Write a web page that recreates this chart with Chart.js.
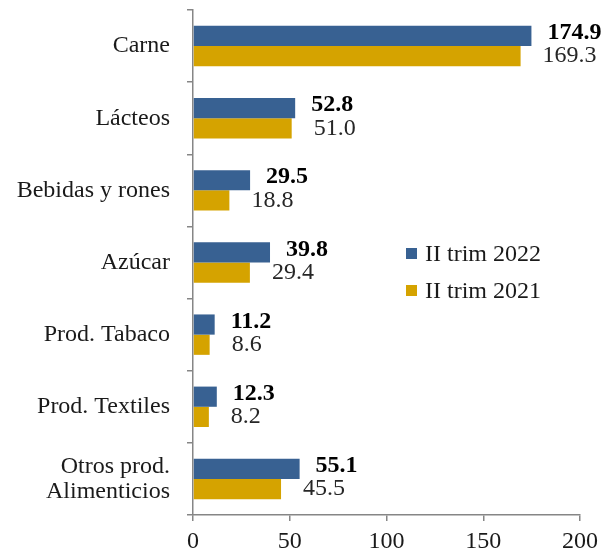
<!DOCTYPE html>
<html>
<head>
<meta charset="utf-8">
<script src="https://cdn.jsdelivr.net/npm/chart.js@4/dist/chart.umd.min.js"></script>
<style>
  html, body { margin: 0; padding: 0; background: #fff; }
  canvas { display: block; }
</style>
</head>
<body>
<canvas id="chart" width="612" height="554"></canvas>
<script>
const categories = ["Carne", "Lácteos", "Bebidas y rones", "Azúcar", "Prod. Tabaco", "Prod. Textiles", ["Otros prod.", "Alimenticios"]]
const trim2022 = [174.9, 52.8, 29.5, 39.8, 11.2, 12.3, 55.1]
const trim2021 = [169.3, 51.0, 18.8, 29.4, 8.6, 8.2, 45.5]
const seriesNames = ["II trim 2022", "II trim 2021"]
const xTicks = [0, 50, 100, 150, 200]

const FONT = "'Liberation Serif', 'Times New Roman', serif"
const BLUE = "#386192"
const GOLD = "#D5A300"
const AXIS = "#868686"

// value labels next to each bar
const valueLabels = {
  id: "valueLabels",
  afterDatasetsDraw(chart) {
    const ctx = chart.ctx
    ctx.save()
    ctx.textAlign = "left"
    ctx.textBaseline = "middle"
    chart.data.datasets.forEach((ds, i) => {
      const meta = chart.getDatasetMeta(i)
      const bold = i === 0
      ctx.font = (bold ? "bold " : "") + "24px " + FONT
      ctx.fillStyle = bold ? "#000" : "#262626"
      meta.data.forEach((bar, j) => {
        const dx = bold ? 16 : 22
        const dy = bold ? -3 : 0
        ctx.fillText(ds.data[j].toFixed(1), bar.x + dx, bar.y + dy)
      })
    })
    ctx.restore()
  },
}

// legend inside the plot area
const insideLegend = {
  id: "insideLegend",
  afterDraw(chart) {
    const ctx = chart.ctx
    ctx.save()
    ctx.font = "24px " + FONT
    ctx.textBaseline = "middle"
    ctx.textAlign = "left"
    chart.data.datasets.forEach((ds, i) => {
      const y = 253.5 + i * 37
      ctx.fillStyle = ds.backgroundColor
      ctx.fillRect(406, y - 5.5, 11, 11)
      ctx.fillStyle = "#1a1a1a"
      ctx.fillText(ds.label, 425, y + 1)
    })
    ctx.restore()
  },
}

new Chart(document.getElementById("chart"), {
  type: "bar",
  data: {
    labels: categories,
    datasets: [
      { label: seriesNames[0], data: trim2022, backgroundColor: BLUE },
      { label: seriesNames[1], data: trim2021, backgroundColor: GOLD },
    ],
  },
  options: {
    indexAxis: "y",
    responsive: false,
    animation: false,
    layout: { padding: { top: 10, right: 32, bottom: 0, left: 0 } },
    datasets: {
      bar: { categoryPercentage: 0.56, barPercentage: 1.0 },
    },
    plugins: {
      legend: { display: false },
      tooltip: { enabled: false },
    },
    scales: {
      x: {
        min: 0,
        max: 200,
        afterBuildTicks: (s) => { s.ticks = xTicks.map((v) => ({ value: v })) },
        afterFit: (s) => { s.height = 39 },
        grid: { drawOnChartArea: false, color: AXIS, tickLength: 6, lineWidth: 1.5 },
        border: { color: AXIS, width: 1.5 },
        ticks: { color: "#1a1a1a", padding: 9, font: { family: FONT, size: 24, lineHeight: 1 } },
      },
      y: {
        afterFit: (s) => {
          s.width = 193
          s.paddingTop = 0
          s.paddingBottom = 0
        },
        grid: { offset: true, drawOnChartArea: false, color: AXIS, tickLength: 6, lineWidth: 1.5 },
        border: { color: AXIS, width: 1.5 },
        ticks: { color: "#1a1a1a", padding: 17, font: { family: FONT, size: 24, lineHeight: 1.05 } },
      },
    },
  },
  plugins: [valueLabels, insideLegend],
})
</script>
</body>
</html>
